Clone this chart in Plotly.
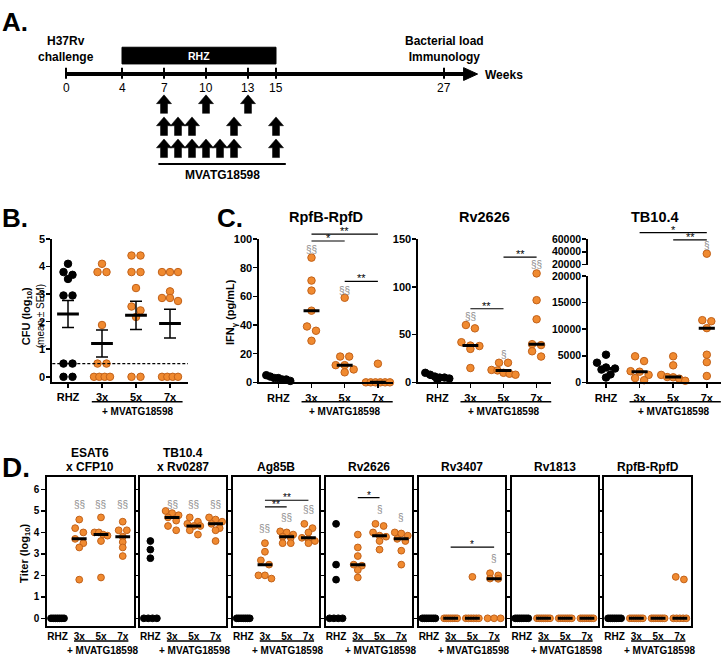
import numpy as np
import plotly.graph_objects as go

W, H = 725, 662
FONT = "Liberation Sans, Arial, Helvetica, sans-serif"
ORANGE = "#F08A30"
ORANGE_EDGE = "#C2621A"
GREY = "#8c8c8c"

groups = ["RHZ", "3x", "5x", "7x"]
boost_label = "+ MVATG18598"

# A. schedule, weeks after challenge
week_ticks = [0, 4, 7, 10, 13, 15, 27]
rhz_period = [4, 15]
boost_rows = [[7, 10, 13], [7, 8, 9, 12, 15], [7, 8, 9, 10, 11, 12, 15]]

# B. lung CFU (log10)
cfu_rhz = [4.1, 3.8, 3.7, 3.55, 2.95, 2.95, 0.48, 0.48, 0, 0]
cfu_3x = [4.1, 3.8, 3.8, 1.88, 0.48, 0.48, 0, 0, 0, 0]
cfu_5x = [4.4, 4.4, 3.8, 3.8, 3.22, 2.55, 2.41, 2.17, 0, 0]
cfu_7x = [3.8, 3.8, 3.8, 3.1, 2.86, 2.86, 2.75, 0, 0, 0, 0]
cfu_mean = [2.28, 1.21, 2.23, 1.93]
cfu_sem = [0.49, 0.49, 0.51, 0.52]
cfu_limit = 0.48

# C. IFN-gamma (pg/mL)
rpf_rhz = [1, 2, 2, 3, 3, 4, 5]
rpf_3x = [87, 71, 64, 50, 39, 36, 29]
rpf_5x = [59, 18, 18, 12, 12, 9, 7]
rpf_7x = [13, 0, 0, 0, 0, 0, 0]
rv26_rhz = [10, 8, 6, 5, 5, 4, 3]
rv26_3x = [60, 56.5, 42, 38.5, 38, 35, 15]
rv26_5x = [20.5, 20.5, 13, 12.5, 10, 9, 8]
rv26_7x = [114, 86, 66, 40, 39, 32.5, 27]
tb_rhz = [5200, 3700, 2800, 2600, 2400, 1500, 900]
tb_3x = [4900, 4000, 2100, 2000, 1400, 800, 400]
tb_5x = [4900, 3200, 1400, 1000, 950, 700, 300]
tb_7x = [37000, 11700, 11500, 10200, 5200, 3800, 1200]
# (from group, to group, height, stars)
rpf_sig = [(1, 3, 103.4, "**"), (1, 2, 98.6, "*"), (2, 3, 70.5, "**")]
rv26_sig = [(1, 2, 77, "**"), (2, 3, 131, "**")]
tb_sig = [(1, 3, 70000, "*"), (2, 3, 58500, "**")]
rpf_marks = [(1, 92.5, "§§"), (2, 64.4, "§§")]
rv26_marks = [(1, 68.5, "§§"), (2, 29, "§"), (3, 123, "§§")]
tb_marks = [(3, 50000, "§")]

# D. antibody titers (log10)
d_titles = ["ESAT6<br>x CFP10", "TB10.4<br>x Rv0287", "Ag85B", "Rv2626",
            "Rv3407", "Rv1813", "RpfB-RpfD"]
zeros = [0, 0, 0, 0, 0, 0, 0]
titer_esat = [zeros, [4.6, 4.2, 4.0, 3.7, 3.5, 3.3, 1.8],
              [4.7, 4.0, 4.0, 3.9, 3.85, 3.6, 1.9], [4.5, 4.1, 4.1, 3.8, 3.55, 3.3, 2.9]]
titer_tb104 = [[3.6, 3.2, 2.8, 0, 0, 0, 0], [5.0, 4.9, 4.8, 4.7, 4.55, 4.3, 4.1],
               [4.7, 4.5, 4.4, 4.3, 4.3, 4.1, 3.9], [4.7, 4.6, 4.5, 4.4, 4.2, 4.1, 3.6]]
titer_ag85b = [zeros, [3.5, 3.1, 2.7, 2.5, 2.0, 2.0, 1.85],
               [4.05, 4.0, 3.9, 3.8, 3.75, 3.5, 3.5], [4.4, 4.2, 4.0, 3.75, 3.7, 3.6, 3.5]]
titer_rv2626 = [[4.4, 2.5, 1.8, 0, 0, 0, 0], [3.9, 3.3, 2.9, 2.5, 2.45, 2.25, 1.9],
                [4.4, 4.3, 4.0, 3.85, 3.8, 3.6, 3.2], [4.0, 3.95, 3.85, 3.7, 3.6, 3.15, 2.5]]
titer_rv3407 = [zeros, zeros, [1.93, 0, 0, 0, 0, 0, 0], [2.1, 2.0, 1.85, 1.84, 0, 0, 0]]
titer_rv1813 = [zeros, zeros, zeros, zeros]
titer_rpf = [zeros, zeros, zeros, [1.93, 1.81, 0, 0, 0, 0, 0]]
d_data = [titer_esat, titer_tb104, titer_ag85b, titer_rv2626, titer_rv3407, titer_rv1813, titer_rpf]
d_sig = [[], [], [(1, 3, 5.5, "**"), (1, 2, 5.19, "**")], [(1, 2, 5.62, "*")],
         [(1, 3, 3.32, "*")], [], []]
d_marks = [[(1, 5.3, "§§"), (2, 5.3, "§§"), (3, 5.3, "§§")],
           [(1, 5.3, "§§"), (2, 5.3, "§§"), (3, 5.3, "§§")],
           [(1, 4.16, "§§"), (2, 4.7, "§§"), (3, 5.07, "§§")],
           [(2, 5.07, "§"), (3, 4.69, "§")],
           [(3, 2.79, "§")], [], []]

fig = go.Figure()
axes = {}
notes = []
shapes = []


def ids(n):
    return ("x", "y") if n == 1 else ("x%d" % n, "y%d" % n)


def key(letter, n):
    return letter + "axis" + ("" if n == 1 else str(n))


def hx(px):
    return px / W


def vy(px):
    return 1 - px / H


def label(x, y, s, size=12, bold=True, color="black", xref="paper", yref="paper",
          xanchor="center", yanchor="middle", angle=0, yshift=0):
    if bold:
        s = "<b>" + s + "</b>"
    notes.append(dict(x=x, y=y, xref=xref, yref=yref, text=s, showarrow=False,
                      xanchor=xanchor, yanchor=yanchor, textangle=angle, yshift=yshift,
                      font=dict(family=FONT, size=size, color=color)))


def swarm(vals, xc, xpx, ypx, diam, maxw):
    order = sorted(range(len(vals)), key=lambda i: -vals[i])
    rows = []
    for i in order:
        if rows and abs(vals[rows[-1][0]] - vals[i]) * ypx < diam * 0.8:
            rows[-1].append(i)
        else:
            rows.append([i])
    xs = [xc] * len(vals)
    for r in rows:
        n = len(r)
        if n < 2:
            continue
        step = min(diam * 1.2, maxw / (n - 1))
        for k, i in enumerate(r):
            xs[i] = xc + (k - (n - 1) / 2) * step / xpx
    return xs


def dots(n, gi, vals, xpx, ypx, size, maxw):
    xa, ya = ids(n)
    xs = swarm(vals, gi, xpx, ypx, size, maxw)
    fill = "black" if gi == 0 else ORANGE
    edge = "black" if gi == 0 else ORANGE_EDGE
    fig.add_trace(go.Scatter(x=xs, y=vals, xaxis=xa, yaxis=ya, mode="markers",
                             cliponaxis=False, hoverinfo="skip",
                             marker=dict(size=size, color=fill, line=dict(color=edge, width=1))))


def hbar(n, xc, v, half, width=3):
    xa, ya = ids(n)
    fig.add_trace(go.Scatter(x=[xc - half, xc + half], y=[v, v], xaxis=xa, yaxis=ya,
                             mode="lines", cliponaxis=False, hoverinfo="skip",
                             line=dict(color="black", width=width)))


def sig(n, g0, g1, v, stars, rng, size=11):
    xa, ya = ids(n)
    f = (v - rng[0]) / (rng[1] - rng[0])
    shapes.append(dict(type="line", xref=xa, yref=ya + " domain", x0=g0, x1=g1, y0=f, y1=f,
                       line=dict(color="black", width=1.2)))
    label((g0 + g1) / 2, f, stars, size=size, bold=False, xref=xa, yref=ya + " domain",
          yanchor="bottom", yshift=-5)


def marks(n, items, size=10):
    xa, ya = ids(n)
    for g, v, s in items:
        label(g, v, s, size=size, bold=False, color=GREY, xref=xa, yref=ya)


def boost_group(n, x0, x1, xt, y_line, y_text, size=10):
    xa, ya = ids(n)
    shapes.append(dict(type="line", xref=xa, yref="paper", x0=x0, x1=x1,
                       y0=vy(y_line), y1=vy(y_line), line=dict(color="black", width=1.5)))
    label(xt, vy(y_text), boost_label, size=size, xref=xa)


def value_axis(n, top, bot, rng, ticks, size=11, show=True, box=False, fmt="", standoff=0):
    xa, ya = ids(n)
    axes[key("y", n)] = dict(domain=[vy(bot), vy(top)], range=rng, anchor=xa, tickvals=ticks,
                             showline=True, linecolor="black", linewidth=2, mirror=box,
                             ticks="outside", ticklen=4, tickwidth=1.5, tickcolor="black",
                             showticklabels=show, tickformat=fmt, ticklabelstandoff=standoff,
                             tickfont=dict(family=FONT, size=size, color="black", weight="bold"),
                             showgrid=False, zeroline=False, fixedrange=True)


def group_axis(n, left, right, rng, size=11, ticks=True, box=False):
    xa, ya = ids(n)
    axes[key("x", n)] = dict(domain=[hx(left), hx(right)], range=rng, anchor=ya,
                             tickvals=[0, 1, 2, 3], ticktext=groups,
                             showline=True, linecolor="black", linewidth=2, mirror=box,
                             ticks="outside" if ticks else "", ticklen=4, tickwidth=1.5,
                             tickcolor="black",
                             tickfont=dict(family=FONT, size=size, color="black", weight="bold"),
                             showgrid=False, zeroline=False, fixedrange=True)


# ---------------- A: timeline
A_X0, A_WK, A_Y0, A_ROW = 66, 14.0, 69.3, 22.5
axes["xaxis"] = dict(domain=[0, 1], range=[-A_X0 / A_WK, (W - A_X0) / A_WK], visible=False,
                     fixedrange=True)
axes["yaxis"] = dict(domain=[vy(185), vy(20)], anchor="x", visible=False, fixedrange=True,
                     range=[(A_Y0 - 185) / A_ROW, (A_Y0 - 20) / A_ROW])
fig.add_trace(go.Scatter(x=[week_ticks[0], 28.6], y=[0, 0], mode="lines", hoverinfo="skip",
                         line=dict(color="black", width=4)))
fig.add_trace(go.Scatter(x=[28.4, 29.4, 28.4, 28.4], y=[0.29, 0, -0.29, 0.29], mode="lines",
                         fill="toself", fillcolor="black", line=dict(color="black", width=1),
                         hoverinfo="skip"))
tx, ty = [], []
for w in week_ticks:
    tx += [w, w, None]
    ty += [0.28, -0.21, None]
    label(w, -0.61, str(w), size=12, bold=False, xref="x", yref="y")
fig.add_trace(go.Scatter(x=tx, y=ty, mode="lines", hoverinfo="skip",
                         line=dict(color="black", width=2)))
shapes.append(dict(type="rect", xref="x", yref="y", x0=rhz_period[0], x1=rhz_period[1],
                   y0=0.458, y1=1.213, fillcolor="black", line=dict(color="black", width=1)))
label(sum(rhz_period) / 2, 0.835, "RHZ", size=10.5, color="white", xref="x", yref="y")
label(week_ticks[0], 1.124, "H37Rv<br>challenge", size=12, xref="x", yref="y")
label(week_ticks[-1], 1.124, "Bacterial load<br>Immunology", size=12, xref="x", yref="y")
label(29.8, -0.03, "Weeks", size=12, xref="x", yref="y", xanchor="left")
ax_, ay_ = [], []
for r, row in enumerate(boost_rows):
    cy = -(r + 1.36)
    for w in row:
        ax_ += [w - 0.25, w - 0.25, w - 0.54, w, w + 0.54, w + 0.25, w + 0.25, w - 0.25, None]
        ay_ += [cy - 0.42, cy + 0.02, cy + 0.02, cy + 0.42, cy + 0.02, cy + 0.02, cy - 0.42,
                cy - 0.42, None]
fig.add_trace(go.Scatter(x=ax_, y=ay_, mode="lines", fill="toself", fillcolor="black",
                         line=dict(color="black", width=0.5), hoverinfo="skip"))
fig.add_trace(go.Scatter(x=[6.6, 15.7], y=[-4.076, -4.076], mode="lines", hoverinfo="skip",
                         line=dict(color="black", width=2)))
label(11.15, -4.56, "MVATG18598", size=12, xref="x", yref="y")
label(0, vy(16), "A.", size=26, xanchor="left")

# ---------------- B: CFU
b_left, b_step, b_rhz = 52.3, 34.0, 68.0
b_rng = [(b_left - b_rhz) / b_step, 3.53]
group_axis(2, b_left, b_rhz + b_rng[1] * b_step, b_rng)
value_axis(2, 237.3, 382.7, [-0.18, 5], [0, 1, 2, 3, 4, 5], standoff=-1)
b_ypx = 145.4 / 5.18
for gi, vals in enumerate([cfu_rhz, cfu_3x, cfu_5x, cfu_7x]):
    dots(2, gi, vals, b_step, b_ypx, 7.5, 16)
    hbar(2, gi, cfu_mean[gi], 0.32, 3)
fig.add_trace(go.Scatter(x=[0, 1, 2, 3], y=cfu_mean, xaxis="x2", yaxis="y2", mode="markers",
                         marker=dict(size=1, color="black"), hoverinfo="skip", cliponaxis=False,
                         error_y=dict(type="data", array=cfu_sem, color="black", thickness=1.5,
                                      width=6)))
shapes.append(dict(type="line", xref="x2 domain", yref="y2", x0=0, x1=1, y0=cfu_limit,
                   y1=cfu_limit, line=dict(color="black", width=1.2, dash="3px,2px")))
boost_group(2, 0.7, 3.37, 2.05, 403, 413)
label(hx(27), vy(316), "CFU (log<sub>10</sub>)", size=11, angle=-90)
label(hx(40), vy(316), "(mean ± SEM)", size=10, bold=False, angle=-90)
label(0, vy(216), "B.", size=26, xanchor="left")

# ---------------- C: IFN-gamma
c_top, c_bot = 237.3, 383.3
c_sets = [
    (3, "RpfB-RpfD", [rpf_rhz, rpf_3x, rpf_5x, rpf_7x], [0, 100], [0, 20, 40, 60, 80, 100],
     278.3, 33.2, rpf_sig, rpf_marks),
    (4, "Rv2626", [rv26_rhz, rv26_3x, rv26_5x, rv26_7x], [0, 150], [0, 50, 100, 150],
     437.3, 33.1, rv26_sig, rv26_marks),
]
for n, title, data, rng, ticks, rhz_px, step, sg, mk in c_sets:
    xr = [-0.57, 3.45]
    left, right = rhz_px + xr[0] * step, rhz_px + xr[1] * step
    group_axis(n, left, right, xr)
    value_axis(n, c_top, c_bot, rng, ticks, standoff=-1)
    ypx = (c_bot - c_top) / (rng[1] - rng[0])
    for gi, vals in enumerate(data):
        dots(n, gi, vals, step, ypx, 7.5, 24)
        hbar(n, gi, float(np.median(vals)), 0.24, 3)
    for g0, g1, v, s in sg:
        sig(n, g0, g1, v, s, rng)
    marks(n, mk)
    boost_group(n, 0.7, 3.45, 2, 403, 413)
    label(hx((left + right) / 2), vy(215), title, size=14.5)

# TB10.4 with broken axis
t_rhz, t_step, t_xr = 606.0, 33.6, [-0.53, 3.42]
t_left, t_right = t_rhz + t_xr[0] * t_step, t_rhz + t_xr[1] * t_step
group_axis(5, t_left, t_right, t_xr)
value_axis(5, 275, c_bot, [0, 20000], [0, 5000, 10000, 15000, 20000], size=10.5, fmt="d",
           standoff=-1)
axes["xaxis6"] = dict(domain=[hx(t_left), hx(t_right)], range=t_xr, anchor="y6",
                      visible=False, fixedrange=True)
value_axis(6, c_top, 263.3, [20000, 60000], [20000, 40000, 60000], size=10.5, fmt="d",
           standoff=-1)
t_ypx = (c_bot - 275) / 20000
for gi, vals in enumerate([tb_rhz, tb_3x, tb_5x, tb_7x]):
    low = [v for v in vals if v <= 20000]
    high = [v for v in vals if v > 20000]
    dots(5, gi, low, t_step, t_ypx, 7.5, 24)
    if high:
        dots(6, gi, high, t_step, t_ypx, 7.5, 24)
    hbar(5, gi, float(np.median(vals)), 0.24, 3)
for g0, g1, v, s in tb_sig:
    sig(6, g0, g1, v, s, [20000, 60000])
marks(6, tb_marks)
boost_group(5, 0.7, 3.42, 2, 403, 413)
label(hx((t_left + t_right) / 2), vy(215), "TB10.4", size=14.5)

label(hx(231.7), vy(312), "IFN<sub>γ</sub> (pg/mL)", size=11, angle=-90)
label(hx(215), vy(216), "C.", size=26, xanchor="left")

# ---------------- D: antibody titers
d_top, d_bot, d_rng = 479.3, 631.7, [-0.37, 6.6]
d_xr = [-0.47, 3.5]
d_width, d_pitch, d_first = 86.3, 92.85, 47.3
d_ypx = (d_bot - d_top) / (d_rng[1] - d_rng[0])
d_xpx = d_width / (d_xr[1] - d_xr[0])
for k in range(len(d_titles)):
    n = 7 + k
    left = d_first + k * d_pitch
    group_axis(n, left, left + d_width, d_xr, size=10, ticks=False, box=True)
    value_axis(n, d_top, d_bot, d_rng, [0, 1, 2, 3, 4, 5, 6], size=10, show=(k == 0), box=True,
               standoff=0)
    for gi, vals in enumerate(d_data[k]):
        dots(n, gi, vals, d_xpx, d_ypx, 6.8, 13)
        hbar(n, gi, float(np.median(vals)), 0.34, 3)
    for g0, g1, v, s in d_sig[k]:
        sig(n, g0, g1, v, s, d_rng, size=10)
    marks(n, d_marks[k])
    boost_group(n, 0.76, 3.26, 2.05, 646.7, 656)
    for j, line in enumerate(reversed(d_titles[k].split("<br>"))):
        label(hx(left + d_width / 2), vy(469.5 - 14 * j), line, size=12)

label(hx(25), vy(558), "Titer (log<sub>10</sub>)", size=11, angle=-90)
label(0, vy(470), "D.", size=28, xanchor="left")

fig.update_layout(width=W, height=H, margin=dict(l=0, r=0, t=0, b=0),
                  paper_bgcolor="white", plot_bgcolor="white", showlegend=False,
                  font=dict(family=FONT, color="black"),
                  annotations=notes, shapes=shapes, **axes)
fig.write_html("out.html", config={"displayModeBar": False, "staticPlot": True},
               post_script="document.body.style.margin='0';document.body.style.padding='0';")
